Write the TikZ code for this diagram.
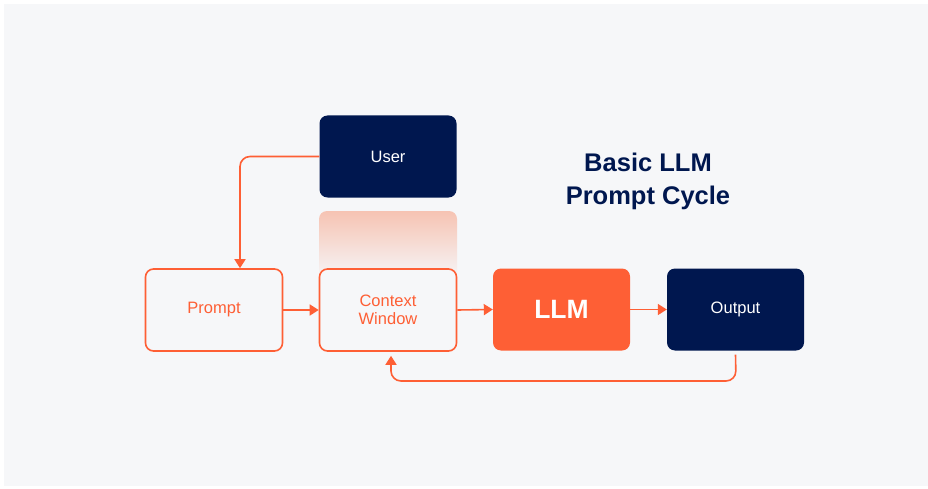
\documentclass[tikz,border=0pt]{standalone}
\usepackage{fontspec}
\setmainfont{Liberation Sans}
\usetikzlibrary{arrows.meta,positioning}
\definecolor{bg}{HTML}{F6F7F9}
\definecolor{navy}{HTML}{00174F}
\definecolor{orng}{HTML}{FE5F35}
\definecolor{salmon}{HTML}{F6C3B3}
\tikzset{
  box/.style={rounded corners=8pt, minimum width=137pt, minimum height=82pt, align=center, inner sep=0pt, font=\fontsize{16.5}{18.5}\selectfont},
  navybox/.style={box, fill=navy, text=white},
  outbox/.style={box, draw=orng, line width=1.6pt, fill=bg, text=orng},
  llmbox/.style={box, fill=orng, text=white, font=\fontsize{26.5}{30}\selectfont\bfseries},
  conn/.style={draw=orng, line width=1.6pt, rounded corners=10pt, -{Triangle[length=9pt,width=11pt]}},
}
\begin{document}
\begin{tikzpicture}[x=1pt,y=-1pt]
\useasboundingbox (0,0) rectangle (928,489);
\fill[white] (0,0) rectangle (928,489);
\fill[bg] (4,4) rectangle (928,486);
% gradient box behind context window
\shade[top color=salmon, bottom color=bg, rounded corners=8pt] (319,211) rectangle (457,280);
\node[navybox] (user) at (388,156.5) {User};
\node[outbox] (prompt) at (214,310) {Prompt};
\node[outbox] (ctx) at (388,310) {Context\\[-1pt]Window};
\node[llmbox] (llm) at (561.5,309.5) {LLM};
\node[navybox] (out) at (735.5,309.5) {Output};
\node[text=navy, font=\fontsize{25.5}{33}\selectfont\bfseries, align=center] (title) at (648,181) {Basic LLM\\Prompt Cycle};
\coordinate (a1) at (240,156.5);
\draw[conn] (user.west) -- (a1) -- (a1 |- prompt.north);
\draw[conn] (prompt.east) -- (ctx.west);
\draw[conn] (ctx.east) -- (llm.west);
\draw[conn] (llm.east) -- (out.west);
\coordinate (b1) at (736,381);
\coordinate (b2) at (391,381);
\draw[conn] ([yshift=-4pt]out.south) -- (b1) -- (b2) -- ([yshift=-4pt]b2 |- ctx.south);
\end{tikzpicture}
\end{document}
